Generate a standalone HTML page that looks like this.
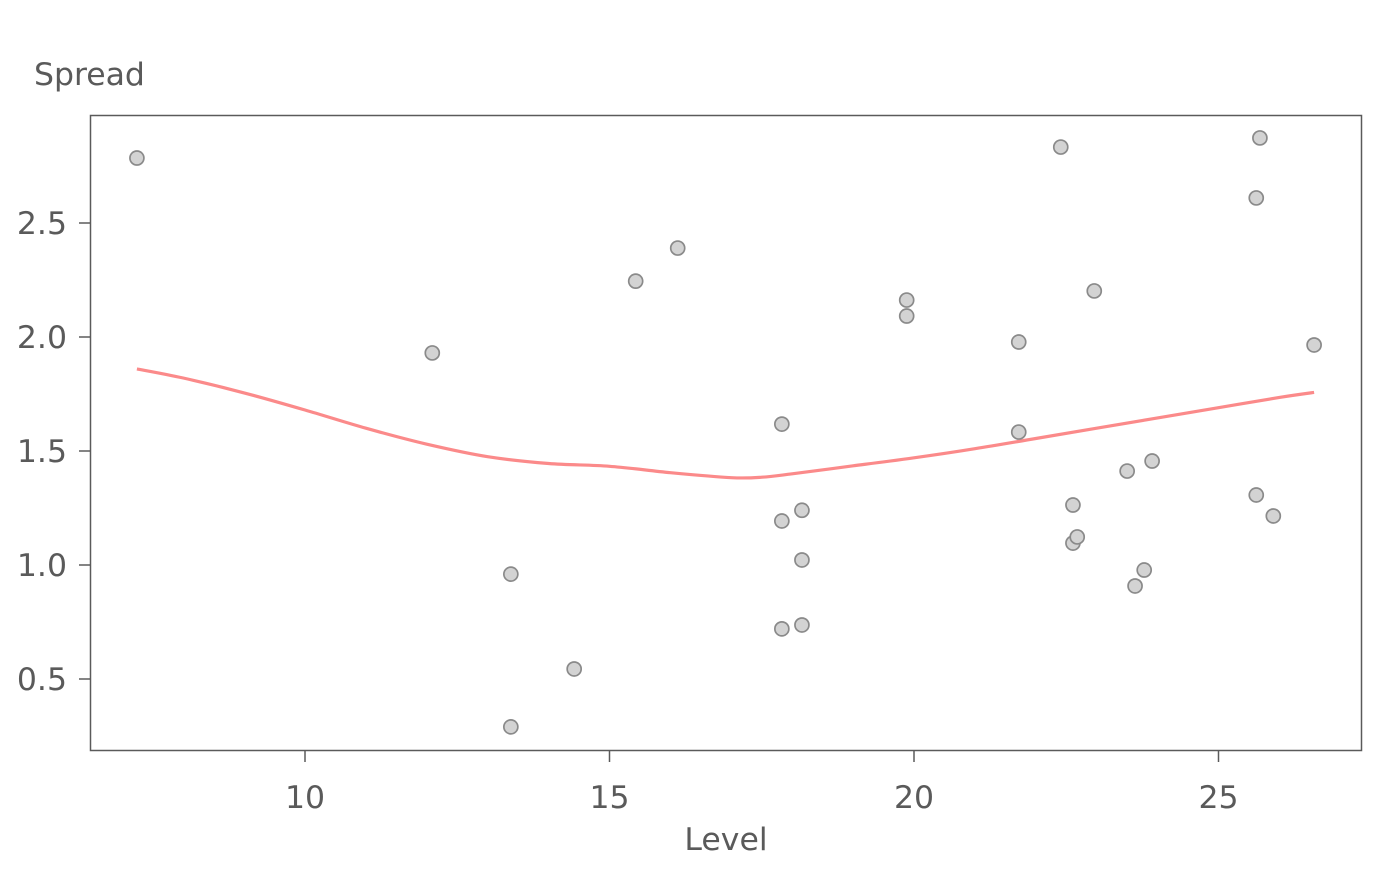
<!DOCTYPE html>
<html><head><meta charset="utf-8"><style>
body{margin:0;background:#fff;}
svg text{font-family:"DejaVu Sans","Liberation Sans",sans-serif;fill:#5a5a5a;}
</style></head><body>
<svg id="chart" width="1400" height="866" xmlns="http://www.w3.org/2000/svg">
<text x="34" y="85" font-size="31.5">Spread</text>
<text x="726" y="850" font-size="31.5" text-anchor="middle">Level</text>
<rect x="90.5" y="115.5" width="1271" height="635" fill="none" stroke="#5a5a5a" stroke-width="1.5"/>
<g id="xt"></g><g id="yt"></g><g id="smooth"></g><g id="pts"></g>
</svg>
<script>
const xTicks=[10,15,20,25];
const yTicks=[0.5,1.0,1.5,2.0,2.5];
const yTickLabels=["0.5","1.0","1.5","2.0","2.5"];
const levels=[7.24,12.09,13.38,13.38,14.42,15.43,16.12,17.83,17.83,17.83,18.16,18.16,18.16,19.88,19.88,21.72,21.72,22.41,22.61,22.61,22.68,22.96,23.50,23.91,23.63,23.78,25.62,25.62,25.68,25.90,26.57];
const spreads=[2.785,1.93,0.96,0.29,0.544,2.245,2.39,1.618,1.193,0.72,1.24,1.022,0.737,2.162,2.092,1.978,1.583,2.833,1.263,1.096,1.123,2.202,1.412,1.456,0.908,0.978,2.61,1.307,2.873,1.215,1.965];
const smoothX=[7.24,8,9,10,11,12,13,14,15,16,17,17.5,18,19,20,21,22,23,24,25,26,26.57];
const smoothY=[1.86,1.82,1.755,1.68,1.60,1.53,1.475,1.445,1.433,1.405,1.383,1.385,1.40,1.435,1.47,1.51,1.555,1.60,1.645,1.69,1.735,1.757];
const X=v=>305+(v-10)*60.9;
const Y=v=>565-(v-1)*228;
const NS="http://www.w3.org/2000/svg";
function mk(t,a,p){const e=document.createElementNS(NS,t);for(const k in a)e.setAttribute(k,a[k]);p.appendChild(e);return e;}
const xt=document.getElementById('xt'),yt=document.getElementById('yt');
xTicks.forEach(v=>{
 const l=mk('line',{x1:X(v),x2:X(v),y1:751,y2:762,stroke:'#5a5a5a','stroke-width':1.5},xt);
 
 
 const t=mk('text',{x:X(v),y:808,'font-size':31.5,'text-anchor':'middle'},xt);t.textContent=v;
 
 
});
yTicks.forEach((v,i)=>{
 const l=mk('line',{x1:79,x2:90,y1:Y(v),y2:Y(v),stroke:'#5a5a5a','stroke-width':1.5},yt);
 
 
 const t=mk('text',{x:67,y:Y(v)+11,'font-size':31.5,'text-anchor':'end'},yt);t.textContent=yTickLabels[i];
 
 
});
const P=smoothX.map((v,i)=>[X(v),Y(smoothY[i])]);
let d='M'+P[0][0]+' '+P[0][1];
for(let i=0;i<P.length-1;i++){
 const p0=P[Math.max(i-1,0)],p1=P[i],p2=P[i+1],p3=P[Math.min(i+2,P.length-1)];
 const c1=[p1[0]+(p2[0]-p0[0])/6,p1[1]+(p2[1]-p0[1])/6],c2=[p2[0]-(p3[0]-p1[0])/6,p2[1]-(p3[1]-p1[1])/6];
 d+=` C${c1[0].toFixed(1)} ${c1[1].toFixed(1)} ${c2[0].toFixed(1)} ${c2[1].toFixed(1)} ${p2[0].toFixed(1)} ${p2[1].toFixed(1)}`;
}
const sl=mk('path',{d:d,fill:'none',stroke:'#fb8a8a','stroke-width':3.2},document.getElementById('smooth'));


const pg=document.getElementById('pts');
levels.forEach((v,i)=>{
 const c=mk('circle',{cx:X(v),cy:Y(spreads[i]),r:7,fill:'#d3d3d3',stroke:'#8a8a8a','stroke-width':1.7},pg);
 
 
});
</script>
</body></html>
